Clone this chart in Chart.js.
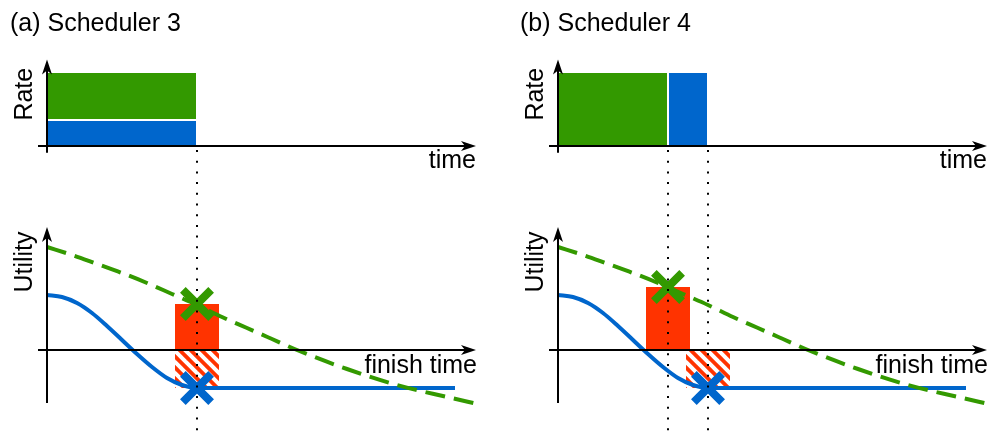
<!DOCTYPE html>
<html>
<head>
<meta charset="utf-8">
<script src="https://cdn.jsdelivr.net/npm/chart.js@4.4.0/dist/chart.umd.min.js"></script>
<style>
  body { margin: 0; background: #fff; }
  canvas { position: absolute; top: 0; }
  #chartA { left: 0; }
  #chartB { left: 511px; }
</style>
</head>
<body>
<canvas id="chartA" width="478" height="435"></canvas>
<canvas id="chartB" width="478" height="435"></canvas>
<script>
// ---- data ----
const titles = ['(a) Scheduler 3', '(b) Scheduler 4'];
const flows = ['blue', 'green'];

// rate blocks per flow (Scheduler 3: shared link, Scheduler 4: green first then blue)
const rateA_start = [0, 0];
const rateA_end   = [3, 3];
const rateA_low   = [0, 0.35];
const rateA_high  = [0.35, 1];

const rateB_start = [2.2, 0];
const rateB_end   = [3, 2.2];
const rateB_low   = [0, 0];
const rateB_high  = [1, 1];

// finish time and utility obtained per flow
const finishA = [3, 3];
const gainA   = [-0.38, 0.46];
const finishB = [3, 2.2];
const gainB   = [-0.38, 0.63];

// utility functions vs finish time
const greenT = [0, 0.5, 1, 1.5, 2, 2.5, 3, 3.5, 4, 4.5, 5, 6, 7, 8, 8.62];
const greenU = [1.03, 0.95, 0.86, 0.77, 0.67, 0.56, 0.45, 0.33, 0.22, 0.11, 0, -0.19, -0.35, -0.47, -0.54];
const blueT  = [0, 0.3, 0.6, 0.9, 1.2, 1.5, 1.8, 2.1, 2.4, 2.7, 3, 4, 6, 8.16];
const blueU  = [0.55, 0.53, 0.47, 0.37, 0.24, 0.1, -0.04, -0.17, -0.28, -0.35, -0.38, -0.38, -0.38, -0.38];

// ---- style ----
const colors = { blue: '#0066cc', green: '#339900', red: '#ff3300' };
const barHalf = 0.44;
const font = '"Liberation Sans", Arial, Helvetica, sans-serif';

function hatch() {
  const c = document.createElement('canvas');
  c.width = 11; c.height = 11;
  const g = c.getContext('2d');
  g.fillStyle = colors.red;
  g.fillRect(0, 0, 11, 11);
  g.strokeStyle = '#fff';
  g.lineWidth = 4;
  [-11, 0, 11].forEach(k => {
    g.beginPath();
    g.moveTo(k - 2, -2);
    g.lineTo(k + 13, 13);
    g.stroke();
  });
  return g.createPattern(c, 'repeat');
}
const hatchFill = hatch();

function poly(x0, x1, lo, hi, fillColor, axis, border) {
  return {
    yAxisID: axis,
    data: [{x: x0, y: lo}, {x: x0, y: hi}, {x: x1, y: hi}, {x: x1, y: lo}],
    fill: 'shape',
    backgroundColor: fillColor,
    borderColor: '#fff',
    borderWidth: border,
    pointRadius: 0,
    tension: 0
  };
}

// scale range from a pixel anchor: value 0 at zeroPx, pxPer pixels per unit
function range(zeroPx, pxPer, top, bottom) {
  return { min: -(bottom - zeroPx) / pxPer, max: (zeroPx - top) / pxPer };
}

const axesPlugin = {
  id: 'diagram',
  afterDatasetsDraw(chart, args, opts) {
    const ctx = chart.ctx;
    const sx = chart.scales.x, yr = chart.scales.yRate, yu = chart.scales.yUtil;
    const x0 = sx.getPixelForValue(0);
    const xl = sx.getPixelForValue(-0.18);
    const xr = sx.getPixelForValue(8.58);

    function arrow(x, y, dir) {
      ctx.save();
      ctx.translate(x, y);
      ctx.rotate(dir);
      ctx.beginPath();
      ctx.moveTo(0, 0);
      ctx.lineTo(-15, -5);
      ctx.lineTo(-11, 0);
      ctx.lineTo(-15, 5);
      ctx.closePath();
      ctx.fill();
      ctx.restore();
    }

    ctx.save();
    ctx.strokeStyle = '#000';
    ctx.fillStyle = '#000';
    ctx.lineWidth = 2;

    // dotted finish-time guides
    ctx.save();
    ctx.setLineDash([2, 8.7]);
    [...new Set(opts.finish)].forEach(t => {
      const px = Math.round(sx.getPixelForValue(t));
      ctx.beginPath();
      ctx.moveTo(px, yr.getPixelForValue(0) + 4);
      ctx.lineTo(px, chart.height - 4);
      ctx.stroke();
    });
    ctx.restore();

    [[yr, -0.09, 1.17], [yu, -0.53, 1.23]].forEach(([ys, lo, hi]) => {
      const y0 = Math.round(ys.getPixelForValue(0));
      const yTop = ys.getPixelForValue(hi);
      ctx.beginPath();
      ctx.moveTo(xl, y0);
      ctx.lineTo(xr - 8, y0);
      ctx.stroke();
      arrow(xr, y0, 0);
      ctx.beginPath();
      ctx.moveTo(x0, ys.getPixelForValue(lo));
      ctx.lineTo(x0, yTop + 8);
      ctx.stroke();
      arrow(x0, yTop, -Math.PI / 2);
    });

    ctx.font = '25px ' + font;
    ctx.textAlign = 'right';
    ctx.textBaseline = 'alphabetic';
    ctx.fillText('time', xr, yr.getPixelForValue(0) + 22);
    ctx.fillText('finish time', xr + 1, yu.getPixelForValue(0) + 23);

    [['Rate', yr.getPixelForValue(0.7)], ['Utility', yu.getPixelForValue(0.88)]].forEach(([txt, yc]) => {
      ctx.save();
      ctx.translate(x0 - 15, yc);
      ctx.rotate(-Math.PI / 2);
      ctx.textAlign = 'center';
      ctx.fillText(txt, 0, 0);
      ctx.restore();
    });

    ctx.font = '25px ' + font;
    ctx.textAlign = 'left';
    ctx.fillText(opts.title, opts.titleX, 31);
    ctx.restore();
  }
};

function makeChart(id, title, titleX, rs, re, rl, rh, finish, gain) {
  const datasets = [];
  // X markers at the finish time of each flow
  flows.forEach((f, i) => {
    datasets.push({
      yAxisID: 'yUtil',
      data: [{x: finish[i], y: gain[i]}],
      showLine: false,
      pointStyle: 'crossRot',
      pointRadius: 20,
      pointBorderWidth: 8,
      borderColor: colors[f],
      pointBorderColor: colors[f],
      pointBackgroundColor: colors[f]
    });
  });
  // utility curves
  datasets.push({
    yAxisID: 'yUtil',
    data: greenT.map((t, i) => ({x: t, y: greenU[i]})),
    borderColor: colors.green, borderWidth: 4, borderDash: [20, 9],
    pointRadius: 0, fill: false, cubicInterpolationMode: 'monotone'
  });
  datasets.push({
    yAxisID: 'yUtil',
    data: blueT.map((t, i) => ({x: t, y: blueU[i]})),
    borderColor: colors.blue, borderWidth: 4,
    pointRadius: 0, fill: false, cubicInterpolationMode: 'monotone'
  });
  // utility bars (solid = gain, hatched = loss)
  flows.forEach((f, i) => {
    datasets.push(poly(finish[i] - barHalf, finish[i] + barHalf, 0, gain[i],
      gain[i] >= 0 ? colors.red : hatchFill, 'yUtil', 0));
  });
  // rate blocks
  flows.forEach((f, i) => {
    datasets.push(poly(rs[i], re[i], rl[i], rh[i], colors[f], 'yRate', 2));
  });

  return new Chart(document.getElementById(id), {
    type: 'line',
    data: { datasets },
    options: {
      responsive: false,
      animation: false,
      events: [],
      layout: { autoPadding: false, padding: { left: 22, right: 0, top: 0, bottom: 0 } },
      scales: {
        x: { type: 'linear', display: false, min: -0.5, max: -0.5 + 456 / 50 },
        yRate: Object.assign({ type: 'linear', display: false }, range(146, 74, 0, 435)),
        yUtil: Object.assign({ type: 'linear', display: false }, range(350, 100, 0, 435))
      },
      plugins: {
        legend: { display: false },
        tooltip: { enabled: false },
        diagram: { title, titleX, finish }
      }
    },
    plugins: [axesPlugin]
  });
}

makeChart('chartA', titles[0], 10, rateA_start, rateA_end, rateA_low, rateA_high, finishA, gainA);
makeChart('chartB', titles[1], 9, rateB_start, rateB_end, rateB_low, rateB_high, finishB, gainB);
</script>
</body>
</html>
